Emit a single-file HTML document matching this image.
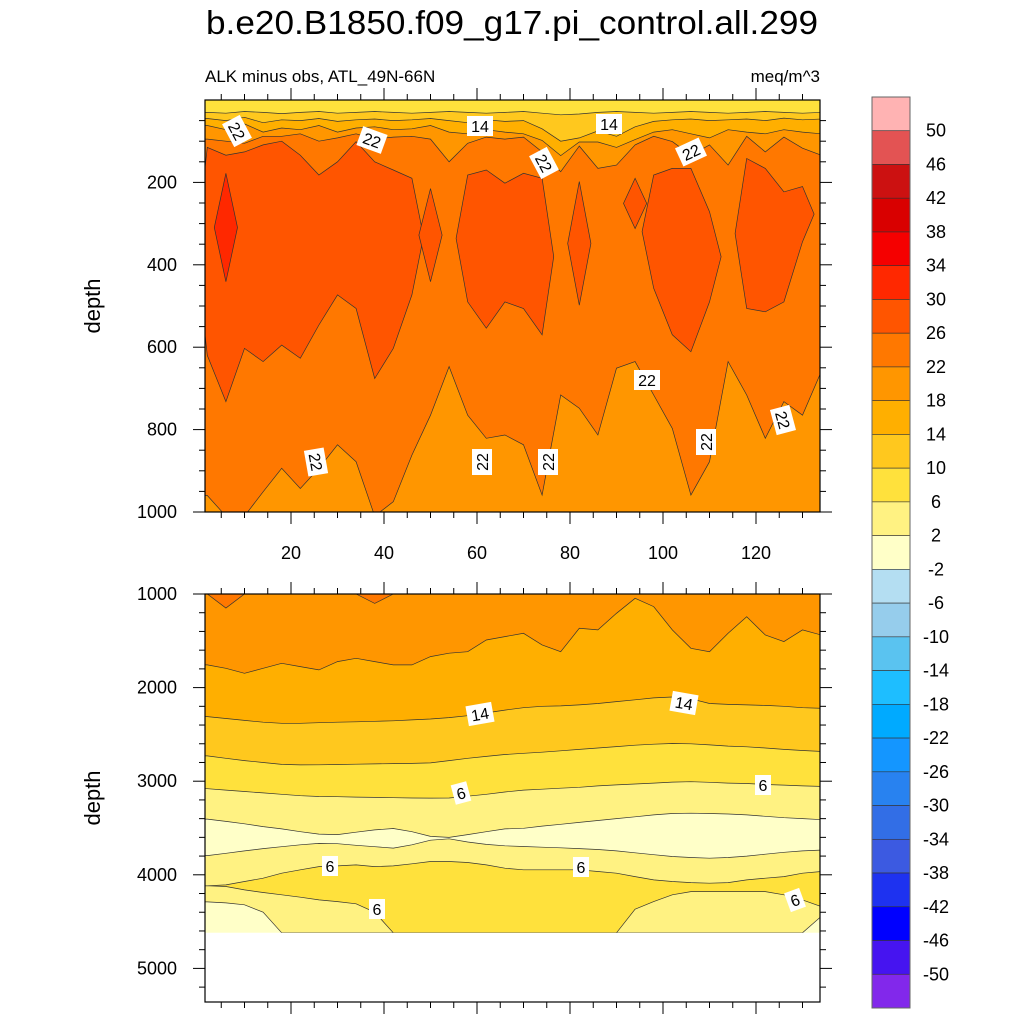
<!DOCTYPE html>
<html><head><meta charset="utf-8"><title>ALK minus obs</title>
<style>
html,body{margin:0;padding:0;background:#fff;}
svg{display:block;font-family:"Liberation Sans",sans-serif;}
</style></head>
<body>
<svg id="chart" width="1024" height="1024" viewBox="0 0 1024 1024" xmlns="http://www.w3.org/2000/svg">
<defs>
<clipPath id="clipTop"><rect x="205" y="100" width="615" height="412"/></clipPath>
<clipPath id="clipBot"><rect x="205" y="594" width="615" height="408"/></clipPath>
</defs>
<text x="512" y="34" font-size="33" text-anchor="middle" textLength="612" lengthAdjust="spacingAndGlyphs">b.e20.B1850.f09_g17.pi_control.all.299</text>
<text x="205" y="82" font-size="17">ALK minus obs, ATL_49N-66N</text>
<text x="820" y="82" font-size="17" text-anchor="end">meq/m^3</text>
<g id="topPanel"></g>
<g id="botPanel"></g>
<g id="colorbar"></g>
<text transform="translate(100,306) rotate(-90)" font-size="22" text-anchor="middle">depth</text>
<text transform="translate(100,798) rotate(-90)" font-size="22" text-anchor="middle">depth</text>
</svg>
<script>
// ---- data ----
const xs=[2,6,10,14,18,22,26,30,34,38,42,46,50,54,58,62,66,70,74,78,82,86,90,94,98,102,106,110,114,118,122,126,130,134];
// upper panel contour boundaries (depth, m)
const b10=[30,32,28,30,33,30,28,32,30,28,30,32,30,28,30,32,30,28,32,36,34,30,28,30,32,30,28,30,32,30,28,30,32,30];
const b14=[45,50,42,55,48,50,45,52,48,46,50,48,45,50,55,48,52,50,70,100,92,75,88,65,52,48,46,50,48,46,50,44,48,46];
const b18=[62,72,58,78,68,72,62,78,68,65,72,70,62,78,82,72,78,82,98,135,102,102,115,96,78,72,82,92,72,78,82,72,78,82];
const b22=[95,100,105,88,88,82,100,92,82,95,90,88,95,150,105,90,95,90,126,174,112,166,158,109,88,101,134,109,158,88,126,90,117,134];
const b22bot=[960,1010,1010,951,894,943,894,837,878,1010,975,862,765,647,765,821,813,837,959,716,748,813,651,635,716,797,959,878,635,716,821,732,765,660];
const n=null;
const blob1Top=[115,134,126,109,100,134,182,150,101,150,170,190,n,n,n,n,n,n,n,n,n,n,n,190,n,n,n,n,n,142,166,223,210,n];
const blob1Bot=[620,732,603,635,595,627,546,473,506,676,603,473,n,n,n,n,n,n,n,n,n,n,n,312,n,n,n,n,n,506,514,490,344,n];
const blob2Top=[n,n,n,n,n,n,n,n,n,n,n,n,215,n,182,170,202,178,190,n,198,n,n,n,182,166,166,271,n,n,n,n,n,n];
const blob2Bot=[n,n,n,n,n,n,n,n,n,n,n,n,441,n,490,554,490,506,570,n,498,n,n,n,457,570,611,490,n,n,n,n,n,n];
const hot30Top=[n,178,n,n,n,n,n,n,n,n,n,n,n,n,n,n,n,n,n,n,n,n,n,n,n,n,n,n,n,n,n,n,n,n];
const hot30Bot=[n,441,n,n,n,n,n,n,n,n,n,n,n,n,n,n,n,n,n,n,n,n,n,n,n,n,n,n,n,n,n,n,n,n];
// lower panel contour boundaries (depth, m)
const c22=[1000,1150,1000,1000,1000,1000,1000,1000,1000,1100,1000,1000,1000,1000,1000,1000,1000,1000,1000,1000,1000,1000,1000,1000,1000,1000,1000,1000,1000,1000,1000,1000,1000,1000];
const c18=[1758,1794,1847,1794,1740,1776,1811,1722,1687,1722,1758,1758,1669,1633,1616,1491,1455,1420,1544,1616,1366,1384,1206,1046,1135,1384,1580,1616,1420,1242,1438,1509,1384,1438];
const c14=[2310,2330,2350,2370,2381,2381,2375,2370,2365,2360,2355,2345,2335,2320,2300,2270,2240,2215,2200,2195,2185,2170,2150,2130,2110,2100,2120,2170,2180,2185,2190,2200,2215,2221];
const c10=[2730,2755,2780,2800,2820,2826,2825,2822,2818,2815,2812,2810,2805,2780,2755,2735,2715,2702,2690,2675,2660,2645,2630,2615,2605,2597,2600,2612,2625,2632,2645,2660,2672,2682];
const c6=[3080,3095,3110,3125,3140,3155,3163,3166,3170,3173,3176,3179,3181,3180,3160,3140,3115,3095,3085,3075,3065,3050,3040,3030,3020,3010,3005,3012,3020,3025,3035,3042,3050,3056];
const c2=[3405,3430,3455,3485,3510,3540,3565,3570,3545,3520,3505,3540,3590,3600,3570,3540,3510,3503,3480,3460,3440,3420,3400,3380,3360,3345,3342,3345,3350,3360,3375,3390,3400,3410];
const cm2=[3795,3770,3745,3720,3700,3680,3665,3668,3685,3700,3715,3680,3630,3615,3650,3675,3690,3698,3705,3712,3720,3730,3745,3765,3785,3805,3815,3823,3815,3800,3780,3760,3745,3736];
const c6b=[4118,4108,4072,4036,3983,3947,3912,3905,3894,3912,3905,3883,3858,3858,3869,3894,3930,3947,3947,3947,3947,3965,3983,4019,4054,4072,4083,4090,4083,4054,4036,4019,3983,3965];
const c6c=[4118,4125,4161,4189,4214,4239,4268,4286,4310,4400,4620,4620,4620,4620,4620,4620,4620,4620,4620,4620,4620,4620,4620,4368,4286,4214,4179,4179,4179,4179,4179,4214,4268,4339];
const cLo=[4290,4300,4320,4400,4620,4620,4620,4620,4620,4620,4620,4620,4620,4620,4620,4620,4620,4620,4620,4620,4620,4620,4620,4620,4620,4620,4620,4620,4620,4620,4620,4620,4620,4446];
// colorbar
const cbLabels=["50","46","42","38","34","30","26","22","18","14","10","6","2","-2","-6","-10","-14","-18","-22","-26","-30","-34","-38","-42","-46","-50"];
const cbColors=["#ffb3b3","#e35353","#cc1111","#d90000","#f50000","#ff2800","#ff5500","#ff7800","#ff9600","#ffaf00","#ffc81e","#ffe13c","#fff282","#ffffc8","#b4def2","#96cdec","#5ac3f0","#1ebeff","#00aaff","#1496ff","#2882f0","#326ee6","#3c5ae1","#1e32f0","#0000ff","#4614f0","#8228eb"];
const xTicks=[20,40,60,80,100,120];
const yTicksTop=[200,400,600,800,1000];
const yTicksBot=[1000,2000,3000,4000,5000];

const C={c30:"#ff2800",c26:"#ff5500",c22:"#ff7800",c18:"#ff9600",c14:"#ffaf00",c10:"#ffc81e",c6:"#ffe13c",c2:"#fff282",c0:"#ffffc8"};
const NS="http://www.w3.org/2000/svg";
function X(x){return 198+4.65*x;}
function YT(d){return 100+0.412*d;}
function YB(d){return 594+(d-1000)*0.0936;}
function mk(tag,attrs,parent){const e=document.createElementNS(NS,tag);for(const k in attrs)e.setAttribute(k,attrs[k]);parent.appendChild(e);return e;}

function bandD(vals,yf,topDepth){
  let d="M"+X(-3)+","+yf(topDepth)+" L"+X(-3)+","+yf(vals[0]);
  for(let i=0;i<xs.length;i++)d+=" L"+X(xs[i]).toFixed(1)+","+yf(vals[i]).toFixed(1);
  d+=" L"+X(140)+","+yf(vals[vals.length-1])+" L"+X(140)+","+yf(topDepth)+" Z";
  return d;
}
function blobD(top,bot,yf){
  let d="";let i=0;
  while(i<xs.length){
    if(top[i]===null){i++;continue;}
    let j=i;while(j+1<xs.length&&top[j+1]!==null)j++;
    d+="M"+X(xs[i]-2.5).toFixed(1)+","+yf((top[i]+bot[i])/2).toFixed(1);
    for(let k=i;k<=j;k++)d+=" L"+X(xs[k]).toFixed(1)+","+yf(top[k]).toFixed(1);
    d+=" L"+X(xs[j]+2.5).toFixed(1)+","+yf((top[j]+bot[j])/2).toFixed(1);
    for(let k=j;k>=i;k--)d+=" L"+X(xs[k]).toFixed(1)+","+yf(bot[k]).toFixed(1);
    d+=" Z ";i=j+1;
  }
  return d;
}
function drawBand(g,vals,yf,top,color,name){
  const p=mk("path",{d:bandD(vals,yf,top),fill:color,stroke:"#333","stroke-width":"0.7"},g);
  
  
}
function drawBlob(g,t,b,yf,color,name){
  const p=mk("path",{d:blobD(t,b,yf),fill:color,stroke:"#333","stroke-width":"0.7"},g);
  
  
}
function cLabel(parent,x,y,rot,txt,name){
  const g=mk("g",{transform:"translate("+x+","+y+") rotate("+rot+")"},parent);
  
  
  const w=txt.length*10+6;
  mk("rect",{x:-w/2,y:-10,width:w,height:20,fill:"#fff"},g);
  mk("text",{x:0,y:6,"font-size":"16","text-anchor":"middle"},g).textContent=txt;
}

// ---- upper panel ----
const tp=document.getElementById("topPanel");
const tc=mk("g",{"clip-path":"url(#clipTop)"},tp);
const bgT=mk("rect",{x:205,y:100,width:615,height:412,fill:C.c18},tc);


drawBand(tc,b22bot,YT,-10,C.c22,"band-22-26");
drawBlob(tc,blob1Top,blob1Bot,YT,C.c26,"blobs-26-30-a");
drawBlob(tc,blob2Top,blob2Bot,YT,C.c26,"blobs-26-30-b");
drawBlob(tc,hot30Top,hot30Bot,YT,C.c30,"blob-30-34");
drawBand(tc,b22,YT,-10,C.c18,"band-18-22-surface");
drawBand(tc,b18,YT,-10,C.c14,"band-14-18");
drawBand(tc,b14,YT,-10,C.c10,"band-10-14");
drawBand(tc,b10,YT,-10,C.c6,"band-6-10");
[[237,131,62,"22"],[372,140,20,"22"],[480,126,0,"14"],[609,124,0,"14"],[544,163,62,"22"],[691,152,-25,"22"],[647,380,0,"22"],[783,420,75,"22"],[706,442,-90,"22"],[316,462,80,"22"],[482,462,-90,"22"],[548,462,-90,"22"]].forEach((l,i)=>cLabel(tc,l[0],l[1],l[2],l[3],"contour-label-top-"+i));
const frT=mk("rect",{x:205,y:100,width:615,height:412,fill:"none",stroke:"#000","stroke-width":"1.2"},tp);



// ---- lower panel ----
const bp=document.getElementById("botPanel");
const bc=mk("g",{"clip-path":"url(#clipBot)"},bp);
const bgB=mk("rect",{x:205,y:YB(1000),width:615,height:YB(4620)-YB(1000),fill:C.c0},bc);


drawBand(bc,cLo,YB,900,C.c2,"band-2-6-bottom");
drawBand(bc,c6c,YB,900,C.c6,"band-6-10-lower");
drawBand(bc,c6b,YB,900,C.c2,"band-2-6-lower");
drawBand(bc,cm2,YB,900,C.c0,"band-neg2-2");
drawBand(bc,c2,YB,900,C.c2,"band-2-6");
drawBand(bc,c6,YB,900,C.c6,"band-6-10");
drawBand(bc,c10,YB,900,C.c10,"band-10-14");
drawBand(bc,c14,YB,900,C.c14,"band-14-18");
drawBand(bc,c18,YB,900,C.c18,"band-18-22");
drawBand(bc,c22,YB,900,C.c22,"band-22-26");
const wh=mk("rect",{x:205,y:YB(4620),width:615,height:1002-YB(4620),fill:"#fff"},bc);


[[480,714,-10,"14"],[684,703,10,"14"],[461,793,-15,"6"],[763,785,0,"6"],[330,866,0,"6"],[581,867,0,"6"],[377,909,0,"6"],[795,900,-20,"6"]].forEach((l,i)=>cLabel(bc,l[0],l[1],l[2],l[3],"contour-label-bottom-"+i));
const frB=mk("rect",{x:205,y:594,width:615,height:408,fill:"none",stroke:"#000","stroke-width":"1.2"},bp);



// ---- ticks ----
function tick(g,x1,y1,x2,y2){mk("line",{x1:x1,y1:y1,x2:x2,y2:y2,stroke:"#000","stroke-width":"1"},g);}
function xTicksFor(g,yTop,yBot){
  for(let v=5;v<=130;v+=5){const x=X(v);if(x<205||x>820)continue;const maj=v%20===0;const L=maj?12:6;
    tick(g,x,yTop,x,yTop-L);tick(g,x,yBot,x,yBot+L);}
}
const tkT=mk("g",{},tp);


xTicksFor(tkT,100,512);
for(let d=50;d<=1000;d+=50){const y=YT(d);const maj=d%200===0;const L=maj?12:6;tick(tkT,205,y,205-L,y);tick(tkT,820,y,820+L,y);}
xTicks.forEach(v=>{const t=mk("text",{x:X(v),y:559,"font-size":"18","text-anchor":"middle"},tp);t.textContent=v;
  
  });
yTicksTop.forEach(v=>{const t=mk("text",{x:177,y:YT(v)+6,"font-size":"18","text-anchor":"end"},tp);t.textContent=v;
  
  });
const tkB=mk("g",{},bp);


xTicksFor(tkB,594,1002);
for(let d=1000;d<=5300;d+=200){const y=YB(d);const maj=d%1000===0;const L=maj?12:6;tick(tkB,205,y,205-L,y);tick(tkB,820,y,820+L,y);}
yTicksBot.forEach(v=>{const t=mk("text",{x:177,y:YB(v)+6,"font-size":"18","text-anchor":"end"},bp);t.textContent=v;
  
  });

// ---- colorbar ----
const cb=document.getElementById("colorbar");
const cbTop=97,cbH=911,bh=cbH/cbColors.length;
cbColors.forEach((c,i)=>{const r=mk("rect",{x:872,y:cbTop+i*bh,width:38,height:bh,fill:c,stroke:"#333","stroke-width":"0.6"},cb);
  
  });
cbLabels.forEach((s,i)=>{const t=mk("text",{x:936,y:cbTop+(i+1)*bh+6,"font-size":"18","text-anchor":"middle"},cb);t.textContent=s;
  
  });
const cbf=mk("rect",{x:872,y:cbTop,width:38,height:cbH,fill:"none",stroke:"#666","stroke-width":"1"},cb);


</script>
</body></html>
